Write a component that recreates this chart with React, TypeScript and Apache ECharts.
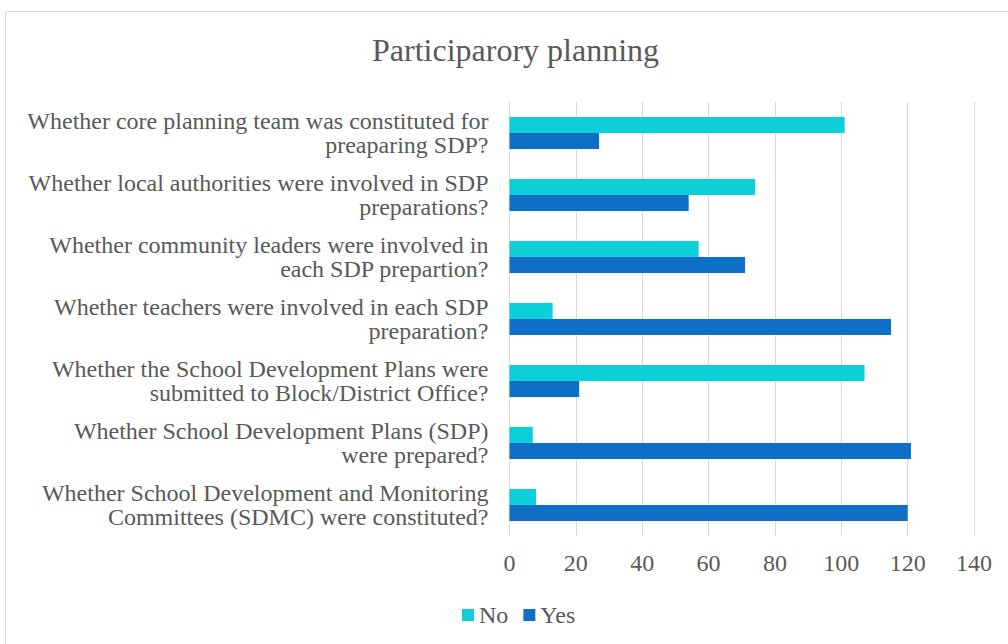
import React, { useEffect, useRef } from "react";
import * as echarts from "echarts";

const categories = [
  "Whether core planning team was constituted for\npreaparing SDP?",
  "Whether local authorities were involved in SDP\npreparations?",
  "Whether community leaders were involved in\neach SDP prepartion?",
  "Whether teachers were involved in each SDP\npreparation?",
  "Whether the School Development Plans were\nsubmitted to Block/District Office?",
  "Whether School Development Plans (SDP)\nwere prepared?",
  "Whether School Development and Monitoring\nCommittees (SDMC) were constituted?",
];
const noValues = [101, 74, 57, 13, 107, 7, 8];
const yesValues = [27, 54, 71, 115, 21, 121, 120];

const FONT = "Liberation Serif";
const TEXT = "#595959";

export default function App() {
  const ref = useRef<HTMLDivElement>(null);
  useEffect(() => {
    const chart = echarts.init(ref.current!, null, { renderer: "svg" });
    chart.setOption({
      animation: false,
      backgroundColor: "#ffffff",
      textStyle: { fontFamily: FONT },
      title: {
        text: "Participarory planning",
        left: 367,
        top: 29,
        textStyle: { fontFamily: FONT, fontSize: 32, fontWeight: "normal", color: TEXT },
      },
      graphic: [
        {
          type: "rect",
          shape: { x: 5.5, y: 11.5, width: 1010, height: 640 },
          style: { fill: "none", stroke: "#d9d9d9", lineWidth: 1 },
          silent: true,
        },
      ],
      legend: {
        bottom: 12,
        left: 457,
        itemWidth: 12,
        itemHeight: 12,
        itemGap: 15,
        icon: "rect",
        textStyle: { fontFamily: FONT, fontSize: 24, color: TEXT },
        data: ["No", "Yes"],
      },
      grid: { left: 509.5, right: 34, top: 102, bottom: 108, containLabel: false },
      xAxis: {
        type: "value",
        min: 0,
        max: 140,
        interval: 20,
        axisLine: { show: false },
        axisTick: { show: false },
        splitLine: { lineStyle: { color: "#d9d9d9", width: 1 } },
        axisLabel: { fontFamily: FONT, fontSize: 24, color: TEXT, margin: 15 },
      },
      yAxis: {
        type: "category",
        inverse: true,
        data: categories,
        axisLine: { show: false },
        axisTick: { show: false },
        axisLabel: {
          fontFamily: FONT,
          fontSize: 24,
          color: TEXT,
          margin: 21,
          lineHeight: 24,
          align: "right",
        },
      },
      series: [
        {
          name: "No",
          type: "bar",
          data: noValues,
          barWidth: 16,
          barGap: "0%",
          itemStyle: { color: "#0ccfd8" },
        },
        {
          name: "Yes",
          type: "bar",
          data: yesValues,
          barWidth: 16,
          barGap: "0%",
          itemStyle: { color: "#0f6fc6" },
        },
      ],
    });
    return () => chart.dispose();
  }, []);
  return (
    <div
      ref={ref}
      style={{ position: "fixed", left: 0, top: 0, width: 1008, height: 644 }}
    />
  );
}
